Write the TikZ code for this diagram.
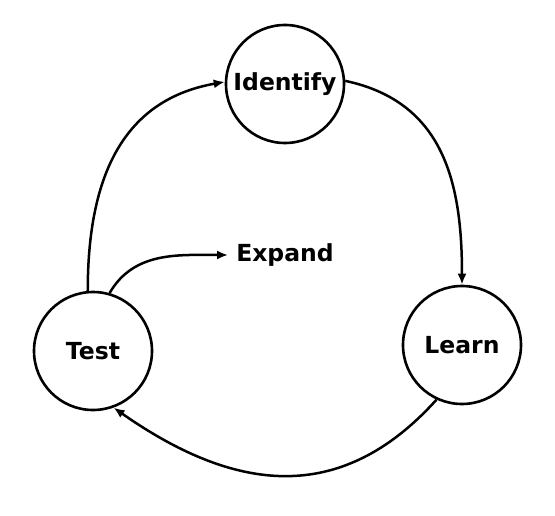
\documentclass[tikz,border=0pt]{standalone}
\usepackage{fontspec}
\setmainfont{DejaVu Sans}
\usetikzlibrary{arrows.meta}
\tikzset{
  stage/.style={circle, draw, line width=2.6pt, minimum size=118pt, inner sep=0pt,
    font=\bfseries\fontsize{23.5}{28}\selectfont},
  flow/.style={line width=2.5pt, -{Latex[length=11pt,width=9pt]}}
}
\begin{document}
\begin{tikzpicture}[x=1pt,y=-1pt]
    \useasboundingbox (0,0) rectangle (555,516);
    \node[stage] (identify) at (285,84) { Identify };
    \node[stage] (test) at (93,351) { Test };
    \node[stage] (learn) at (462,345) { Learn };
    \node[font=\bfseries\fontsize{23.5}{28}\selectfont, inner sep=8pt] (expand) at (285,255) { Expand };
    \draw[flow] (test.95) to[out=90, in=190, looseness=1.1] (identify.178);
    \draw[flow] (identify.3) to[out=-12, in=90, looseness=1.1] (learn.north);
    \draw[flow] (learn.245) to[out=228, in=-35, looseness=1.15] (test.290);
    \draw[flow] (test.74) to[out=60, in=180] (expand.west);
\end{tikzpicture}
\end{document}
